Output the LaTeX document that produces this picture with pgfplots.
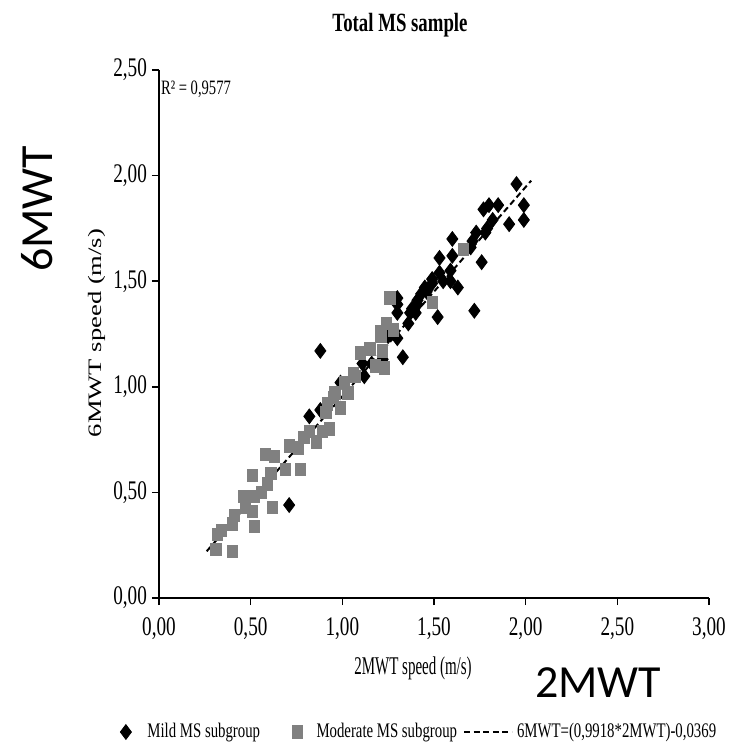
\documentclass[border=0pt]{standalone}
\usepackage{pgfplots}
\pgfplotsset{compat=1.18}
\usepackage{fontspec}
\setmainfont{Liberation Serif}
\newfontfamily\calibri{Carlito}
\definecolor{modgray}{RGB}{128,128,128}
\newcommand{\vs}[1]{\scalebox{1}[1.4]{#1}}

\pgfplotstableread{
x y
0.71 0.44
0.88 1.17
0.82 0.86
0.88 0.89
0.99 1.02
1.11 1.11
1.16 1.11
1.12 1.05
1.22 1.13
1.33 1.14
1.25 1.24
1.30 1.23
1.30 1.42
1.30 1.39
1.30 1.35
1.36 1.30
1.37 1.35
1.38 1.37
1.40 1.35
1.41 1.39
1.41 1.41
1.43 1.44
1.45 1.47
1.46 1.45
1.49 1.51
1.49 1.49
1.53 1.54
1.55 1.50
1.59 1.55
1.59 1.50
1.63 1.47
1.52 1.33
1.72 1.36
1.53 1.61
1.60 1.62
1.60 1.70
1.70 1.66
1.71 1.69
1.73 1.73
1.78 1.73
1.79 1.75
1.82 1.79
1.77 1.84
1.80 1.86
1.85 1.86
1.91 1.77
1.99 1.79
1.99 1.86
1.95 1.96
1.76 1.59
}\mild

\pgfplotstableread{
x y
0.31 0.23
0.40 0.22
0.34 0.32
0.32 0.30
0.41 0.39
0.40 0.35
0.52 0.34
0.62 0.43
0.51 0.41
0.47 0.43
0.46 0.48
0.52 0.48
0.56 0.50
0.59 0.54
0.51 0.58
0.61 0.59
0.69 0.61
0.77 0.61
0.58 0.68
0.63 0.67
0.71 0.72
0.76 0.71
0.86 0.74
0.79 0.76
0.82 0.79
0.89 0.79
0.93 0.80
0.92 0.92
0.99 0.90
0.96 0.97
1.03 0.97
1.07 1.05
1.01 1.02
1.06 1.06
1.10 1.16
1.15 1.18
1.21 1.24
0.91 0.88
0.95 0.95
1.23 1.09
1.18 1.10
1.22 1.17
1.24 1.30
1.21 1.26
1.28 1.27
1.26 1.42
1.49 1.40
1.66 1.65
}\moderate

\pgfplotstableread{
x y
0.26 0.221
2.03 1.976
}\trend

\begin{document}
\begin{tikzpicture}
\path[use as bounding box] (-79.5pt,-72pt) rectangle (285pt,299pt);
\begin{axis}[
  at={(0pt,0pt)}, anchor=south west,
  scale only axis, width=275pt, height=264pt,
  xmin=0, xmax=3, ymin=0, ymax=2.5,
  axis x line=bottom, axis y line=left,
  axis line style={-, line width=0.75pt},
  xtick={0,0.5,1,1.5,2,2.5,3}, ytick={0,0.5,1,1.5,2,2.5},
  tick align=outside, major tick length=3.5pt,
  tick style={line width=0.75pt, black},
  xticklabel={\vs{\pgfmathprintnumber[fixed,fixed zerofill,precision=2,use comma,assume math mode=true]{\tick}}},
  yticklabel={\vs{\pgfmathprintnumber[fixed,fixed zerofill,precision=2,use comma,assume math mode=true]{\tick}}},
  ticklabel style={font=\fontsize{9.6}{11}\selectfont},
  xticklabel style={yshift=-3pt},
  yticklabel style={xshift=1pt},
  clip=false,
  legend columns=3,
  legend style={at={(0.475,-0.2538)}, anchor=center, draw=none, fill=none,
    font=\fontsize{7.4}{9}\selectfont, column sep=0pt,
    /tikz/every even column/.append style={column sep=0pt}},
]
\addplot[only marks, mark=diamond*, mark size=3.7pt, color=black] table[x=x,y=y]{\mild};
\addlegendentry{\kern6pt\vs{Mild MS subgroup}\kern14pt}
\addplot[only marks, mark=square*, mark size=2.6pt, color=modgray, mark options={yscale=1.2}] table[x=x,y=y]{\moderate};
\addlegendentry{\kern5pt\vs{Moderate MS subgroup}\kern1pt}
\addplot[black, line width=1pt, dash pattern=on 3pt off 1.8pt,
  legend image code/.code={\draw[black, line width=1pt, dash pattern=on 3pt off 1.8pt] (0pt,0pt) -- (24pt,0pt);}] table[x=x,y=y]{\trend};
\addlegendentry{\vs{6MWT=(0,9918*2MWT)-0,0369}}
\end{axis}
\node[font=\bfseries\fontsize{9.4}{11}\selectfont] at (120.5pt,286.5pt) {\vs{Total MS sample}};
\node[anchor=west, font=\fontsize{7.3}{9}\selectfont] at (-2.5pt,254.5pt) {\vs{R² = 0,9577}};
\node[font=\fontsize{7.5}{9}\selectfont] at (127pt,-35pt) {\scalebox{1}[1.7]{2MWT speed (m/s)}};
\node[rotate=90, font=\fontsize{9.5}{11}\selectfont] at (-31pt,132.5pt) {\scalebox{1.4}[1]{6MWT speed (m/s)}};
\node[rotate=90, font=\calibri\fontsize{23}{27}\selectfont] at (-61pt,194.5pt) {6MWT};
\node[font=\calibri\fontsize{23}{27}\selectfont] at (219.5pt,-42.5pt) {2MWT};
\end{tikzpicture}
\end{document}
